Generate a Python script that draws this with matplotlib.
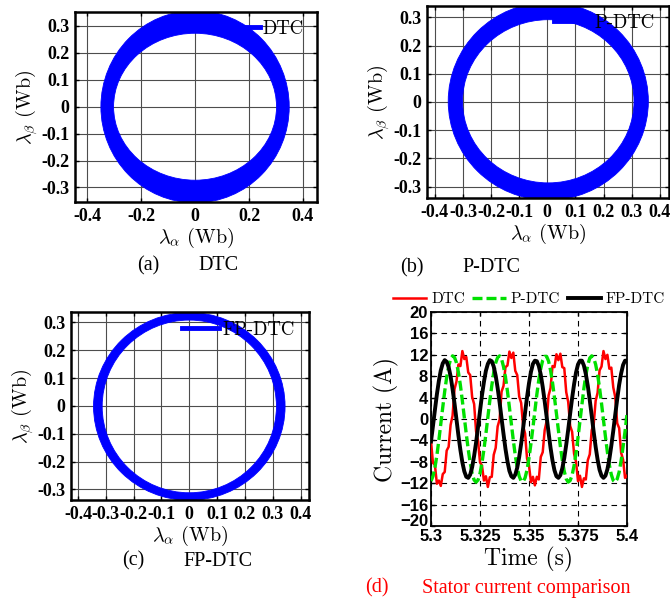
import numpy as np
import matplotlib
matplotlib.use("Agg")
import matplotlib.pyplot as plt
from matplotlib.path import Path
from matplotlib.patches import PathPatch
from matplotlib.transforms import Affine2D
from matplotlib.lines import Line2D

plt.rcParams['mathtext.fontset'] = 'cm'

# ---------------- data ----------------
flux_labels = ['DTC', 'P-DTC', 'FP-DTC']
captions_tag = ['(a)', '(b)', '(c)', '(d)']
captions_txt = ['DTC', 'P-DTC', 'FP-DTC', 'Stator current comparison']

# flux trajectory envelope (Wb), read from the rings
ring_center_x = [0.0, 0.0035, 0.0]
ring_center_y = [0.0, 0.0025, -0.002]
ring_outer_a = [0.349, 0.356, 0.344]
ring_outer_b = [0.357, 0.350, 0.337]
ring_inner_a = [0.302, 0.305, 0.313]
ring_inner_b = [0.273, 0.289, 0.310]

flux_xticks_a = [-0.4, -0.2, 0, 0.2, 0.4]
flux_xticklabels_a = ['-0.4', '-0.2', '0', '0.2', '0.4']
flux_xticks_bc = [-0.4, -0.3, -0.2, -0.1, 0, 0.1, 0.2, 0.3, 0.4]
flux_xticklabels_bc = ['-0.4', '-0.3', '-0.2', '-0.1', '0', '0.1', '0.2', '0.3', '0.4']
flux_yticks = [-0.3, -0.2, -0.1, 0, 0.1, 0.2, 0.3]
flux_yticklabels = ['-0.3', '-0.2', '-0.1', '0', '0.1', '0.2', '0.3']

time_s = np.round(np.linspace(5.3, 5.4, 101), 4)

i_dtc = [-4.2, -8.2, -8.6, -12.1, -11.5, -12.5, -10.3, -9.9, -5.9, -5.2,
         -1.1, 0.6, 5.6, 7.0, 10.2, 9.9, 12.7, 11.2, 11.6, 8.7,
         8.2, 4.1, 2.8, -2.3, -4.0, -8.1, -8.7, -11.5, -10.7, -12.7,
         -10.9, -10.8, -6.7, -5.4, -1.4, -0.1, 5.1, 6.2, 9.7, 10.0,
         12.6, 11.4, 12.4, 9.0, 8.2, 4.2, 3.0, -1.3, -2.7, -7.4,
         -8.7, -11.8, -10.8, -12.4, -10.8, -11.3, -7.1, -6.2, -2.1, -0.4,
         4.4, 5.8, 9.9, 9.7, 12.1, 11.0, 12.2, 9.7, 9.5, 5.0,
         3.2, -1.3, -2.4, -6.5, -8.0, -11.6, -10.6, -12.7, -11.1, -11.3,
         -7.7, -6.6, -2.1, -1.0, 3.4, 4.9, 9.1, 9.8, 12.7, 11.2,
         12.0, 9.4, 9.6, 5.9, 4.1, -0.8, -1.7, -6.3, -7.6, -11.0,
         -10.6]

i_pdtc = [-11.6, -10.7, -9.1, -6.8, -4.0, -0.9, 2.2, 5.2, 7.8, 9.8,
          11.2, 11.8, 11.5, 10.5, 8.7, 6.3, 3.4, 0.3, -2.8, -5.7,
          -8.2, -10.2, -11.4, -11.8, -11.4, -10.2, -8.2, -5.7, -2.8, 0.3,
          3.4, 6.2, 8.7, 10.5, 11.5, 11.8, 11.2, 9.8, 7.8, 5.2,
          2.2, -0.9, -4.0, -6.8, -9.1, -10.7, -11.6, -11.7, -11.0, -9.5,
          -7.3, -4.6, -1.6, 1.5, 4.6, 7.3, 9.4, 11.0, 11.7, 11.7,
          10.8, 9.1, 6.8, 4.0, 1.0, -2.1, -5.1, -7.7, -9.8, -11.2,
          -11.8, -11.5, -10.5, -8.7, -6.3, -3.5, -0.4, 2.7, 5.7, 8.2,
          10.1, 11.4, 11.8, 11.4, 10.2, 8.3, 5.8, 2.9, -0.2, -3.3,
          -6.2, -8.6, -10.4, -11.5, -11.8, -11.2, -9.9, -7.8, -5.2, -2.3,
          0.9]

i_fpdtc = [-4.2, -1.3, 1.7, 4.6, 7.1, 9.1, 10.4, 11.0, 10.7, 9.7,
           8.0, 5.6, 2.9, -0.1, -3.1, -5.8, -8.1, -9.8, -10.8, -11.0,
           -10.4, -9.0, -6.9, -4.4, -1.5, 1.5, 4.4, 6.9, 9.0, 10.3,
           11.0, 10.8, 9.8, 8.1, 5.8, 3.1, 0.1, -2.8, -5.6, -7.9,
           -9.7, -10.7, -11.0, -10.4, -9.1, -7.1, -4.6, -1.7, 1.2, 4.1,
           6.7, 8.8, 10.3, 10.9, 10.8, 9.9, 8.3, 6.0, 3.3, 0.4,
           -2.6, -5.4, -7.8, -9.6, -10.7, -11.0, -10.5, -9.2, -7.3, -4.8,
           -2.0, 1.0, 3.9, 6.5, 8.7, 10.2, 10.9, 10.9, 10.0, 8.4,
           6.2, 3.5, 0.6, -2.4, -5.2, -7.6, -9.5, -10.6, -11.0, -10.6,
           -9.4, -7.5, -5.0, -2.2, 0.8, 3.7, 6.4, 8.5, 10.1, 10.9,
           10.9]

cur_xticks = [5.3, 5.325, 5.35, 5.375, 5.4]
cur_xticklabels = ['5.3', '5.325', '5.35', '5.375', '5.4']
cur_yticks = [-20, -16, -12, -8, -4, 0, 4, 8, 12, 16, 20]
cur_yticklabels = ['\u221220', '\u221216', '\u221212', '\u22128', '\u22124', '0',
                   '4', '8', '12', '16', '20']

# ---------------- figure ----------------
W, H = 670, 598
fig = plt.figure(figsize=(W / 100, H / 100), dpi=100)


def px_axes(x0, y0, x1, y1):
    return fig.add_axes([x0 / W, 1 - y1 / H, (x1 - x0) / W, (y1 - y0) / H])


serif_bold = {'family': 'Liberation Serif', 'weight': 'bold', 'size': 13}
sans_bold = {'family': 'Liberation Sans', 'weight': 'bold', 'size': 12}
cm = 'cmr10'

flux_boxes = [(75, 12, 317, 202), (427, 6, 669, 198), (71, 312, 309, 500)]
flux_xlims = [(-0.445, 0.452), (-0.428, 0.433), (-0.425, 0.43)]
flux_ylims = [(-0.354, 0.352), (-0.34, 0.34), (-0.338, 0.337)]
leg_anchor = [(0.694, 0.911), (0.525, 0.911), (0.466, 0.904)]
leg_handlelen = [0.9, 2.0, 2.0]

for k in range(3):
    ax = px_axes(*flux_boxes[k])
    circ = Path.unit_circle()
    outer = circ.transformed(Affine2D().scale(ring_outer_a[k], ring_outer_b[k])
                             .translate(ring_center_x[k], ring_center_y[k]))
    inner = circ.transformed(Affine2D().scale(-ring_inner_a[k], ring_inner_b[k])
                             .translate(ring_center_x[k], ring_center_y[k]))
    ring = Path.make_compound_path(outer, inner)
    ax.add_patch(PathPatch(ring, facecolor='#0000ff', edgecolor='#0000ff',
                           lw=0.6, zorder=2))
    ax.set_xlim(*flux_xlims[k])
    ax.set_ylim(*flux_ylims[k])
    if k == 0:
        ax.set_xticks(flux_xticks_a)
        ax.set_xticklabels(flux_xticklabels_a, fontdict=serif_bold)
    else:
        ax.set_xticks(flux_xticks_bc)
        ax.set_xticklabels(flux_xticklabels_bc, fontdict=serif_bold)
    ax.set_yticks(flux_yticks)
    ax.set_yticklabels(flux_yticklabels, fontdict=serif_bold)
    ax.set_axisbelow(True)
    ax.grid(True, color='0.3', lw=0.8)
    ax.tick_params(direction='in', top=True, right=True, length=3, width=1,
                   pad=4)
    for s in ax.spines.values():
        s.set_linewidth(1.8)
    ax.set_xlabel(r'$\lambda_\alpha$ (Wb)', family=cm, fontsize=14.5, labelpad=1)
    ax.set_ylabel(r'$\lambda_\beta$ (Wb)', family=cm, fontsize=14.5, labelpad=1)
    leg = ax.legend(handles=[Line2D([], [], color='#0000ff', lw=3.5)],
                    labels=[flux_labels[k]], loc='center left',
                    bbox_to_anchor=leg_anchor[k], frameon=False, borderpad=0,
                    borderaxespad=0, handlelength=leg_handlelen[k],
                    handletextpad=0.15, prop={'family': cm, 'size': 13.5})
    leg.set_zorder(5)

# ---------------- current panel ----------------
ax = px_axes(431, 312, 627, 526)
ax.plot(time_s, i_dtc, color='#ff0000', lw=1.8, label='DTC', zorder=3)
ax.plot(time_s, i_pdtc, color='#00e000', lw=2.4, ls=(0, (3, 1.2)),
        label='P-DTC', zorder=4)
ax.plot(time_s, i_fpdtc, color='black', lw=2.8, label='FP-DTC', zorder=5)
ax.set_xlim(5.3, 5.4)
ax.set_ylim(-20, 20)
ax.set_xticks(cur_xticks)
ax.set_xticklabels(cur_xticklabels, fontdict=sans_bold)
ax.set_yticks(cur_yticks)
ax.set_yticklabels(cur_yticklabels, fontdict=sans_bold)
ax.get_yticklabels()[0].set_verticalalignment('baseline')
ax.grid(True, color='black', lw=0.8, ls=(0, (5, 4)))
ax.tick_params(direction='in', top=True, right=True, length=3, width=1, pad=2)
ax.tick_params(axis='x', pad=2)
for s in ax.spines.values():
    s.set_linewidth(1.3)
ax.set_xlabel('Time (s)', family=cm, fontsize=17, labelpad=2)
ax.set_ylabel('Current (A)', family=cm, fontsize=17, labelpad=1)
ax.legend(loc='lower center', bbox_to_anchor=(0.5, 1.0), ncol=3, frameon=False,
          borderpad=0.1, borderaxespad=0.3, handlelength=2.2,
          handletextpad=0.3, columnspacing=0.5, prop={'family': cm, 'size': 11})

# ---------------- captions ----------------
cap_tag_xy = [(148, 266), (412, 268), (133, 561), (377, 588)]
cap_txt_x = [198, 462, 183, 422]
cap_colors = ['black', 'black', 'black', '#ff0000']
for k in range(4):
    fig.text(cap_tag_xy[k][0] / W, 1 - cap_tag_xy[k][1] / H, captions_tag[k],
             ha='center', va='center', family='Liberation Serif', fontsize=14.5,
             color=cap_colors[k])
    fig.text(cap_txt_x[k] / W, 1 - cap_tag_xy[k][1] / H, captions_txt[k],
             ha='left', va='center', family='Liberation Serif', fontsize=14.5,
             color=cap_colors[k])

fig.savefig('out.png', dpi=100)
